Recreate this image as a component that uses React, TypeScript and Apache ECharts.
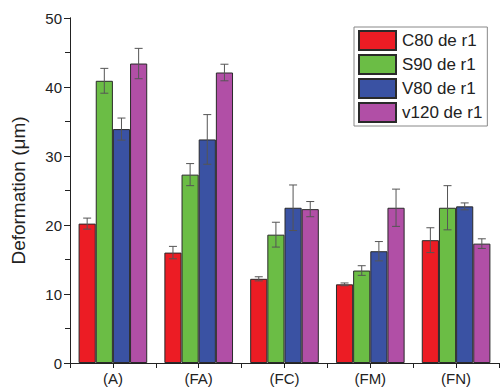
import React, { useEffect, useRef } from "react";
import * as echarts from "echarts";

const categories = ["(A)", "(FA)", "(FC)", "(FM)", "(FN)"];
const seriesNames = ["C80 de r1", "S90 de r1", "V80 de r1", "v120 de r1"];
const c80Values = [20.2, 16.0, 12.2, 11.4, 17.8];
const c80Errors = [0.8, 0.9, 0.3, 0.2, 1.8];
const s90Values = [40.9, 27.3, 18.6, 13.4, 22.5];
const s90Errors = [1.8, 1.6, 1.8, 0.7, 3.2];
const v80Values = [33.9, 32.4, 22.5, 16.2, 22.7];
const v80Errors = [1.6, 3.6, 3.3, 1.4, 0.5];
const v120Values = [43.4, 42.1, 22.3, 22.5, 17.3];
const v120Errors = [2.2, 1.2, 1.1, 2.7, 0.7];
const yTicks = [0, 10, 20, 30, 40, 50];

const colors = ["#ec1c24", "#6bbd45", "#3a52a3", "#b14fa6"];
const FONT = "'Liberation Sans', Arial, sans-serif";

export default function App() {
  const ref = useRef<HTMLDivElement>(null);
  useEffect(() => {
    if (!ref.current) return;
    const chart = echarts.init(ref.current, null, { renderer: "svg" });
    const values = [c80Values, s90Values, v80Values, v120Values];
    const errors = [c80Errors, s90Errors, v80Errors, v120Errors];
    const n = values.length;
    const barSeries = values.map((vals, i) => ({
      name: seriesNames[i],
      type: "bar",
      data: vals,
      barGap: "0%",
      barCategoryGap: "20%",
      itemStyle: { color: colors[i], borderColor: "#2a2a2a", borderWidth: 1 },
      z: 2,
    }));
    const errSeries = values.map((vals, i) => ({
      name: "err" + i,
      type: "custom",
      data: vals.map((v, k) => [k, v, errors[i][k]]),
      encode: { x: 0, y: 1 },
      z: 5,
      silent: true,
      renderItem: (params: any, api: any) => {
        const x = api.value(0);
        const v = api.value(1);
        const e = api.value(2);
        const c = api.coord([x, v]);
        const bw = api.size([1, 0])[0];
        const barW = (bw * 0.8) / n;
        const cx = c[0] + (i - (n - 1) / 2) * barW;
        const top = api.coord([x, v + e])[1];
        const bot = api.coord([x, v - e])[1];
        const cap = 4;
        const style = { stroke: "#555", lineWidth: 1 };
        return {
          type: "group",
          children: [
            { type: "line", shape: { x1: cx, y1: top, x2: cx, y2: bot }, style },
            { type: "line", shape: { x1: cx - cap, y1: top, x2: cx + cap, y2: top }, style },
            { type: "line", shape: { x1: cx - cap, y1: bot, x2: cx + cap, y2: bot }, style },
          ],
        };
      },
    }));
    chart.setOption({
      animation: false,
      backgroundColor: "#ffffff",
      textStyle: { fontFamily: FONT },
      grid: { left: 70, right: 3, top: 18, bottom: 26 },
      legend: {
        data: seriesNames,
        orient: "vertical",
        left: 354,
        top: 27,
        itemWidth: 37,
        itemHeight: 19,
        itemGap: 3,
        padding: [3, 5, 3, 4],
        borderColor: "#888",
        borderWidth: 1,
        backgroundColor: "#fff",
        icon: "rect",
        textStyle: { fontSize: 17, lineHeight: 19, color: "#222", fontFamily: FONT, padding: [0, 0, 0, 1] },
      },
      xAxis: [
        {
          type: "category",
          data: categories,
          position: "bottom",
          axisLine: { lineStyle: { color: "#222", width: 1 } },
          axisTick: { alignWithLabel: true, length: 6, inside: false, lineStyle: { color: "#222" } },
          axisLabel: { fontSize: 15, color: "#222", margin: 8, fontFamily: FONT },
          splitLine: { show: false },
        },
        {
          type: "value",
          position: "top",
          min: 0,
          max: 10,
          interval: 1,
          axisLine: { show: true, lineStyle: { color: "#222", width: 1 } },
          axisTick: { show: true, inside: true, length: 5, lineStyle: { color: "#222" } },
          axisLabel: { show: false },
          splitLine: { show: false },
        },
        {
          type: "value",
          position: "bottom",
          min: 0,
          max: 5,
          interval: 1,
          axisLine: { show: false },
          axisTick: { show: true, inside: false, length: 3, lineStyle: { color: "#222" } },
          axisLabel: { show: false },
          splitLine: { show: false },
        },
      ],
      yAxis: [
        {
          type: "value",
          min: yTicks[0],
          max: yTicks[yTicks.length - 1],
          interval: 10,
          name: "Deformation (μm)",
          nameLocation: "middle",
          nameGap: 42,
          nameTextStyle: { fontSize: 19, color: "#222", fontFamily: FONT },
          axisLine: { show: true, lineStyle: { color: "#222", width: 1 } },
          axisTick: { show: true, length: 6, inside: false, lineStyle: { color: "#222" } },
          minorTick: { show: true, splitNumber: 2, length: 3, lineStyle: { color: "#222" } },
          axisLabel: { fontSize: 15, color: "#222", margin: 8, fontFamily: FONT },
          splitLine: { show: false },
          minorSplitLine: { show: false },
        },
        {
          type: "value",
          position: "right",
          min: 0,
          max: 50,
          interval: 5,
          axisLine: { show: true, lineStyle: { color: "#222", width: 1 } },
          axisTick: { show: true, inside: true, length: 5, lineStyle: { color: "#222" } },
          axisLabel: { show: false },
          splitLine: { show: false },
        },
      ],
      series: [...barSeries, ...errSeries],
    });
    return () => chart.dispose();
  }, []);
  return <div ref={ref} style={{ width: 502, height: 389, position: "absolute", left: 0, top: 0 }} />;
}
